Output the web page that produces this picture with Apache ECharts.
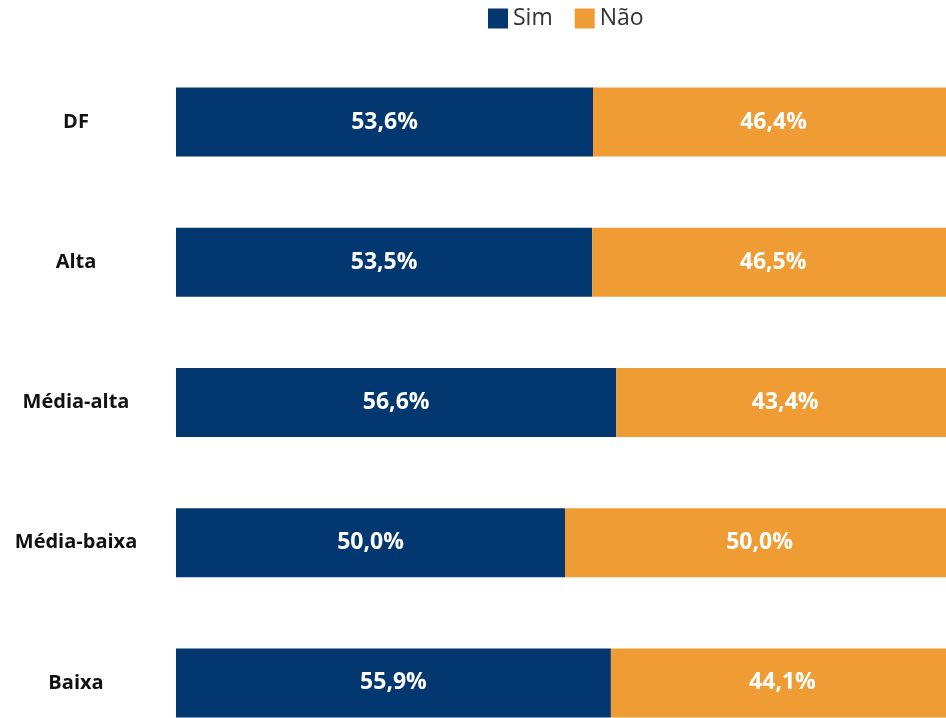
<!DOCTYPE html>
<html>
<head>
<meta charset="utf-8">
<script src="https://cdn.jsdelivr.net/npm/echarts@6/dist/echarts.min.js"></script>
<style>
  html, body { margin: 0; padding: 0; background: #fff; }
  #chart { width: 946px; height: 718px; }
</style>
</head>
<body>
<div id="chart"></div>
<script>
// categories top to bottom
const categorias = ['DF', 'Alta', 'Média-alta', 'Média-baixa', 'Baixa'];
const sim = [53.6, 53.5, 56.6, 50.0, 55.9];
const nao = [46.4, 46.5, 43.4, 50.0, 44.1];

const fmt = p => p.value.toFixed(1).replace('.', ',') + '%';

var myChart = echarts.init(document.getElementById('chart'));

let option = {
  backgroundColor: '#fff',
  legend: {
    left: 483,
    top: 2,
    itemWidth: 20,
    itemHeight: 20,
    itemGap: 22,
    icon: 'rect',
    textStyle: { fontSize: 23, color: '#333', fontFamily: 'Open Sans' },
    data: ['Sim', 'Não']
  },
  // the bars run a little past the right edge in the original
  grid: {
    left: 176,
    width: 778,
    top: 52,
    height: 701,
    outerBoundsMode: 'none'
  },
  xAxis: {
    type: 'value',
    min: 0,
    max: 100,
    show: false
  },
  yAxis: {
    type: 'category',
    inverse: true,
    data: categorias,
    axisLine: { show: false },
    axisTick: { show: false },
    axisLabel: {
      margin: 100,
      align: 'center',
      color: '#111',
      fontSize: 20,
      fontWeight: 'bold',
      fontFamily: 'Open Sans'
    }
  },
  series: [
    {
      name: 'Sim',
      type: 'bar',
      stack: 'total',
      barWidth: 69,
      itemStyle: { color: '#03376F' },
      label: {
        show: true,
        position: 'inside',
        formatter: fmt,
        color: '#fff',
        fontSize: 23,
        fontWeight: 'bold',
        fontFamily: 'Open Sans'
      },
      data: sim
    },
    {
      name: 'Não',
      type: 'bar',
      stack: 'total',
      barWidth: 69,
      itemStyle: { color: '#EF9C34' },
      label: {
        show: true,
        position: 'inside',
        formatter: fmt,
        color: '#fff',
        fontSize: 23,
        fontWeight: 'bold',
        fontFamily: 'Open Sans'
      },
      data: nao
    }
  ]
};

option && myChart.setOption(option);
</script>
</body>
</html>
